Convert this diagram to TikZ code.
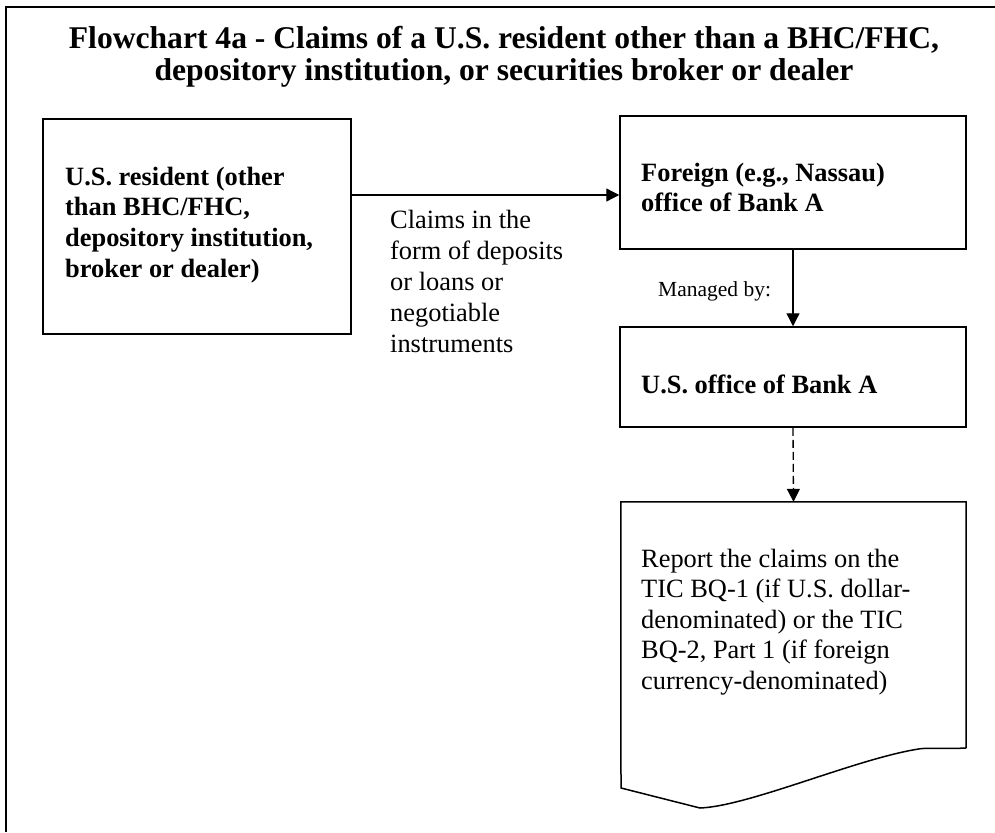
\documentclass[tikz,border=0pt]{standalone}
\usepackage{fontspec}
\setmainfont{Liberation Serif}
\usetikzlibrary{arrows.meta}
\begin{document}
\begin{tikzpicture}[x=1pt,y=-1pt,
  boxnode/.style={draw, line width=1.5pt, inner sep=0pt},
  txt/.style={inner sep=0pt, align=left, anchor=north west},
  bodyfont/.style={font=\fontsize{26.4}{#1}\selectfont},
  boldbody/.style={font=\bfseries\fontsize{26.4}{#1}\selectfont},
  arr/.style={-{Triangle[length=13pt,width=13pt]}, line width=1.3pt},
  dasharr/.style={arr, dash pattern=on 8pt off 4pt}
]
\useasboundingbox (0,0) rectangle (995,832);
% outer frame (only top and left edges visible)
\draw[line width=2pt] (6,832) -- (6,7) -- (995,7);

% title
\node[inner sep=0pt, align=center, anchor=north,
      font=\bfseries\fontsize{31.6}{32}\selectfont] (title) at (504,25.6)
  {\strut Flowchart 4a - Claims of a U.S. resident other than a BHC/FHC,\\
   \strut depository institution, or securities broker or dealer};

% boxes
\node[boxnode, minimum width=308pt, minimum height=215pt] (res) at (197,226.5) {};
\node[boxnode, minimum width=346pt, minimum height=133pt] (foreign) at (793,182.5) {};
\node[boxnode, minimum width=346pt, minimum height=100pt] (usoff) at (793,377) {};
\node[inner sep=0pt, minimum width=345pt, minimum height=246pt] (report) at (793.5,625) {};
\draw[line width=1.5pt] (report.south east) -- (report.north east) -- (report.north west)
  -- (621,788) -- (700,808) .. controls (750,806) and (860,757) .. (922,748.5)
  -- (report.south east);

% box texts
\node[txt, boldbody=30.7] (restxt) at (65,163.5)
  {\strut U.S. resident (other\\ \strut than BHC/FHC,\\ \strut depository institution,\\ \strut broker or dealer)};
\node[txt, boldbody=30] (foreigntxt) at (641,160)
  {\strut Foreign (e.g., Nassau)\\ \strut office of Bank A};
\node[inner sep=0pt, anchor=base west, font=\bfseries\fontsize{26.4}{30}\selectfont] (usofftxt) at (641,393)
  {U.S. office of Bank A};
\node[txt, bodyfont=30.5] (reporttxt) at (641,545.65)
  {\strut Report the claims on the\\ \strut TIC BQ-1 (if U.S. dollar-\\ \strut denominated) or the TIC\\ \strut BQ-2, Part 1 (if foreign\\ \strut currency-denominated)};

% connectors
\coordinate (ay) at (0,195);
\draw[arr] (res.east |- ay) -- (foreign.west |- ay);
\node[txt, bodyfont=31] (claims) at (390,206.3)
  {\strut Claims in the\\ \strut form of deposits\\ \strut or loans or\\ \strut negotiable\\ \strut instruments};
\draw[arr] (foreign.south) -- (usoff.north);
\node[inner sep=0pt, anchor=base west, font=\fontsize{21.5}{25}\selectfont] (managed) at (658,296) {Managed by:};
\draw[dasharr] (usoff.south) -- (report.north);
\end{tikzpicture}
\end{document}
